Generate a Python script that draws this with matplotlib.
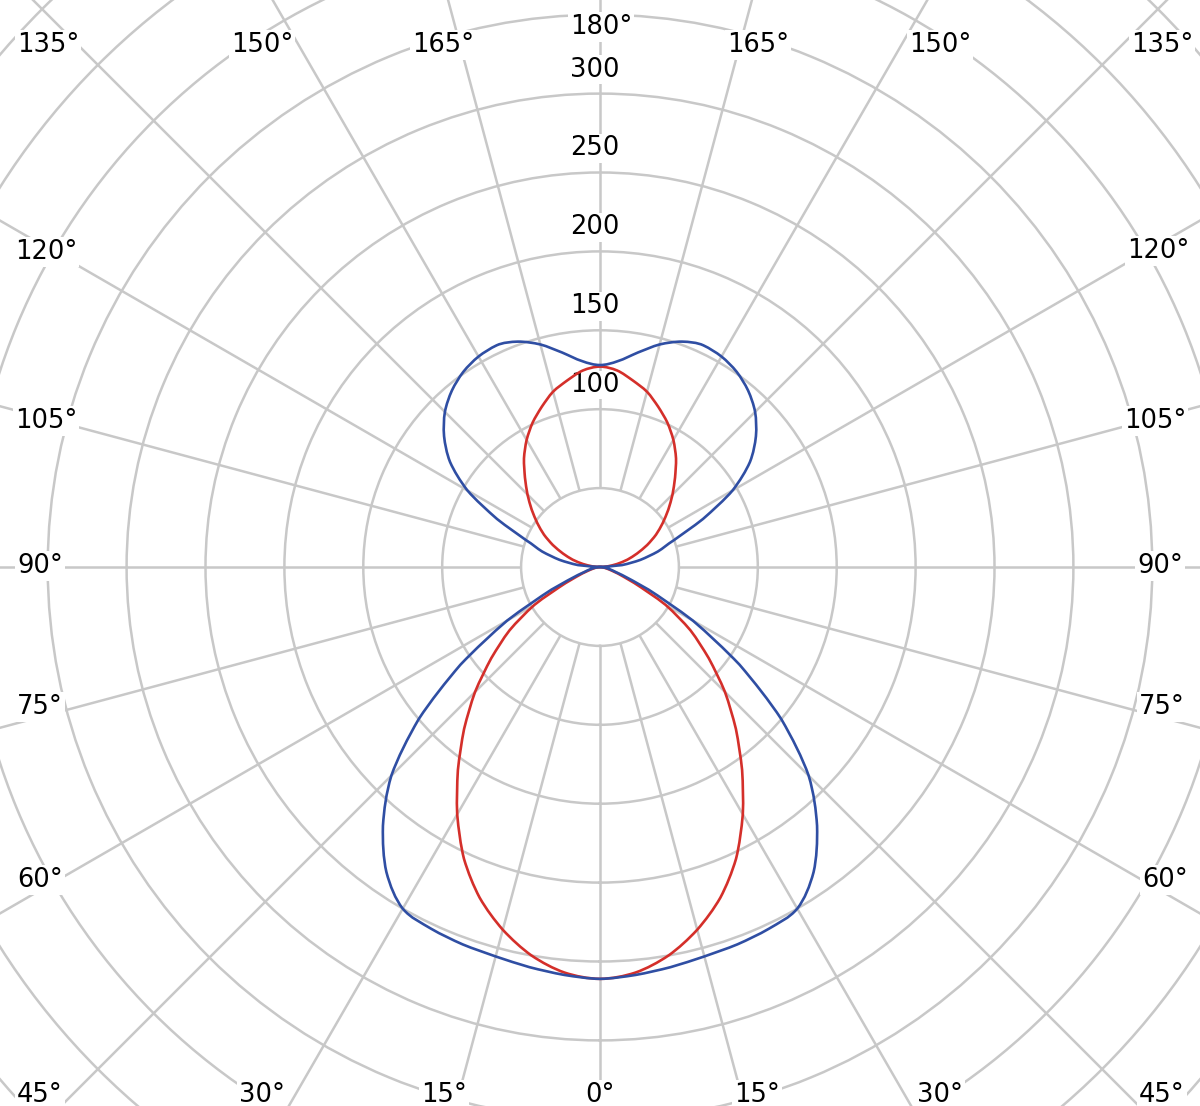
import numpy as np
import matplotlib
matplotlib.use("Agg")
import matplotlib.pyplot as plt
from matplotlib.path import Path
from matplotlib.patches import PathPatch

# ---- data (candela values) ----
angles = [0, 5, 10, 15, 20, 25, 30, 35, 40, 45, 50, 55, 60, 65, 70, 75, 80, 85, 90,
          95, 100, 105, 110, 115, 120, 125, 130, 135, 140, 145, 150, 155, 160, 165,
          170, 175, 180]
blue_vals = [261, 259.5, 257.5, 255.5, 254.5, 253, 250, 236, 214, 187, 150, 108, 68, 34,
             15, 8, 4.5, 2, 0, 14, 26, 38, 50, 72, 97, 116, 129, 139, 146, 151, 154,
             155, 152, 146, 138, 131, 128]
red_vals = [261, 258, 250, 238, 223, 204, 181, 157, 134, 112, 90, 70, 48, 24, 12, 6,
            3, 1, 0, 5, 11, 18, 25, 33, 41, 48.5, 56.5, 65, 74, 84, 93, 101, 108, 115,
            120, 125, 127]
ring_values = [50, 100, 150, 200, 250, 300, 350, 400, 450, 500]
ring_labels = [100, 150, 200, 250, 300]
spoke_angles = list(range(0, 360, 15))

# angle labels: (x px, y px from top, text)
angle_labels = [
    (48, 45, "135°"), (262, 45, "150°"), (443, 45, "165°"), (601, 27, "180°"),
    (758, 45, "165°"), (940, 45, "150°"), (1162, 45, "135°"),
    (46, 252, "120°"), (46, 421, "105°"), (40, 566, "90°"), (40, 707, "75°"), (40, 880, "60°"),
    (1158, 251, "120°"), (1155, 421, "105°"), (1160, 566, "90°"), (1162, 707, "75°"), (1165, 880, "60°"),
    (40, 1095, "45°"), (262, 1095, "30°"), (444, 1095, "15°"), (600, 1095, "0°"),
    (757, 1095, "15°"), (940, 1095, "30°"), (1162, 1095, "45°"),
]


def smooth_curve_path(th, r):
    """Monotone cubic (Bezier) path through the data points in (theta, r) space."""
    th = np.asarray(th, float)
    r = np.asarray(r, float)
    n = len(th)
    d = np.diff(r) / np.diff(th)
    m = np.zeros(n)
    for k in range(1, n - 1):
        if d[k - 1] * d[k] > 0:
            m[k] = 0.5 * (d[k - 1] + d[k])
    for k in range(n - 1):  # Fritsch-Carlson limiter
        if d[k] == 0:
            m[k] = m[k + 1] = 0
            continue
        al, be = m[k] / d[k], m[k + 1] / d[k]
        s = al * al + be * be
        if s > 9:
            t = 3 / np.sqrt(s)
            m[k], m[k + 1] = t * al * d[k], t * be * d[k]
    verts = [(th[0], r[0])]
    codes = [Path.MOVETO]
    for k in range(n - 1):
        h = th[k + 1] - th[k]
        verts += [(th[k] + h / 3, r[k] + m[k] * h / 3),
                  (th[k + 1] - h / 3, r[k + 1] - m[k + 1] * h / 3),
                  (th[k + 1], r[k + 1])]
        codes += [Path.CURVE4] * 3
    return Path(verts, codes)


W, H = 1200, 1106
DPI = 100
fig = plt.figure(figsize=(W / DPI, H / DPI), dpi=DPI)
fig.patch.set_facecolor("white")

cx, cy = 600, 567          # centre in px (from top)
px_per_unit = 78.9 / 50
rmax = 540
R = rmax * px_per_unit
ax = fig.add_axes([(cx - R) / W, (H - cy - R) / H, 2 * R / W, 2 * R / H], projection="polar")
ax.set_theta_zero_location("S")
ax.set_theta_direction(1)
ax.set_ylim(0, rmax)
ax.spines["polar"].set_visible(False)
ax.set_xticks([])
ax.set_yticks(ring_values)
ax.set_yticklabels([])
ax.xaxis.grid(False)
ax.yaxis.grid(True, color="#c8c8c8", linewidth=1.8)
ax.set_facecolor("white")

grid_col = "#c8c8c8"
ax.vlines(np.deg2rad(spoke_angles), 50, rmax, colors=grid_col, linewidth=1.8, zorder=1)

a = np.deg2rad(angles)
theta_full = np.concatenate([-a[::-1], a[1:]])
for vals, col, z in [(red_vals, "#d42f2a", 4), (blue_vals, "#2f4ea3", 5)]:
    v = np.asarray(vals, float)
    r_full = np.concatenate([v[::-1], v[1:]])
    patch = PathPatch(smooth_curve_path(theta_full, r_full), facecolor="none",
                      edgecolor=col, linewidth=1.9, zorder=z, transform=ax.transData)
    ax.add_patch(patch)

font = dict(family="DejaVu Sans", fontsize=18.5, color="black")
for v in ring_labels:
    ax.annotate(str(v), xy=(np.pi, v), xytext=(-5, 24), textcoords="offset pixels",
                ha="center", va="center", zorder=3,
                bbox=dict(facecolor="white", edgecolor="none", pad=1.0), **font)

for x, y, t in angle_labels:
    fig.text(x / W, 1 - y / H, t, ha="center", va="center",
             bbox=dict(facecolor="white", edgecolor="none", pad=1.5), **font)

fig.savefig("out.png", dpi=DPI, facecolor="white")
